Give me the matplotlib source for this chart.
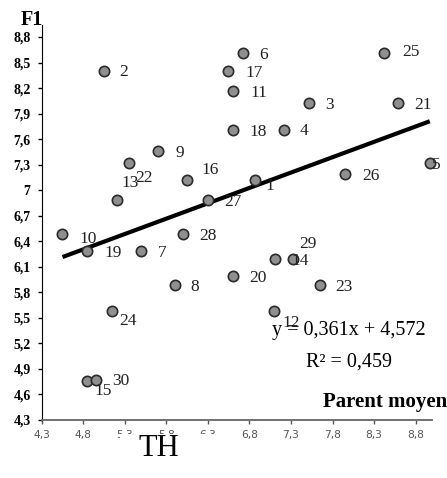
import matplotlib
matplotlib.use("Agg")
import matplotlib.pyplot as plt
import numpy as np
from matplotlib.patches import Rectangle

# data
ids = list(range(1, 31))
th = [6.87, 5.05, 7.52, 7.21, 8.97, 6.72, 5.50, 5.90, 5.70, 4.55,
      6.60, 7.09, 5.21, 7.32, 4.84, 6.05, 6.54, 6.60, 4.84, 6.60,
      8.59, 5.35, 7.65, 5.15, 8.42, 7.95, 6.30, 6.00, 7.11, 4.95]
f1 = [7.12, 8.40, 8.02, 7.71, 7.32, 8.61, 6.29, 5.89, 7.46, 6.49,
      8.16, 5.58, 6.89, 6.19, 4.76, 7.12, 8.40, 7.71, 6.29, 5.99,
      8.02, 7.32, 5.89, 5.58, 8.61, 7.19, 6.89, 6.49, 6.19, 4.77]
slope, intercept, r2 = 0.361, 4.572, 0.459
ticks = [4.3, 4.6, 4.9, 5.2, 5.5, 5.8, 6.1, 6.4, 6.7, 7.0, 7.3, 7.6, 7.9, 8.2, 8.5, 8.8]
xticks = [4.3, 4.8, 5.3, 5.8, 6.3, 6.8, 7.3, 7.8, 8.3, 8.8]

# label offsets in pixels (right, down)
lab_off = [(15, 6), (20, 1), (20, 2), (20, 1), (6, 2), (21, 2), (21, 2), (20, 2),
           (22, 2), (26, 5), (26, 2), (18, 12), (13, -17), (8, 2), (17, 10),
           (23, -10), (26, 2), (25, 2), (27, 2), (25, 2), (25, 2), (15, 15),
           (24, 2), (16, 10), (27, -1), (26, 2), (25, 2), (25, 2), (33, -15), (25, 1)]

def fmt(v):
    return str(int(round(v))) if abs(v - round(v)) < 1e-9 else f"{v:.1f}".replace(".", ",")

serif = "Liberation Serif"

fig = plt.figure(figsize=(4.47, 4.78), dpi=100)
ax = fig.add_axes([41.7 / 447, 1 - 420 / 478, 390 / 447, 395 / 478])

xs = np.array([min(th), max(th)])
ax.plot(xs, slope * xs + intercept, color="black", lw=3, zorder=2, solid_capstyle="butt")
ax.scatter(th, f1, s=55, c="#8f8f8f", edgecolors="#2a2a2a", linewidths=1.2, zorder=3, clip_on=False)

for i, x, y, (dx, dy) in zip(ids, th, f1, lab_off):
    ax.annotate(str(i), (x, y), xytext=(dx * 0.72, -dy * 0.72), textcoords="offset points",
                ha="center", va="center", family=serif, fontsize=12.5, color="#222222")

ax.set_xlim(4.3, 8.993)
ax.set_ylim(4.3, 8.941)
ax.set_yticks(ticks)
ax.set_yticklabels([fmt(v) for v in ticks], family=serif, fontweight="bold", fontsize=10)
ax.set_xticks(xticks)
ax.set_xticklabels([fmt(v) for v in xticks], family="DejaVu Sans", fontsize=7.7, color="#555555")
ax.tick_params(axis="y", direction="out", length=3, width=1, pad=5)
ax.tick_params(axis="x", direction="out", length=3, width=1, pad=4.5, color="#555555")
for s in ["top", "right"]:
    ax.spines[s].set_visible(False)
ax.spines["left"].set_color("black")
ax.spines["bottom"].set_color("#666666")
ax.spines["bottom"].set_linewidth(1.3)

# annotations
fig.text(32 / 447, 1 - 20 / 478, "F1", family=serif, fontweight="bold", fontsize=14.5,
         ha="center", va="center")
fig.text(322.7 / 447, 1 - 407 / 478, "Parent moyen", family=serif, fontweight="bold",
         fontsize=15, ha="left", va="baseline")
fig.text(349 / 447, 1 - 330 / 478, "y = 0,361x + 4,572", family=serif, fontsize=14.5,
         ha="center", va="center")
fig.text(349 / 447, 1 - 362 / 478, "R² = 0,459", family=serif, fontsize=14.5,
         ha="center", va="center")

# white box with TH partially covering tick labels
fig.patches.append(Rectangle((120 / 447, 0), 122 / 447, 1 - 434 / 478, transform=fig.transFigure,
                             facecolor="white", edgecolor="none", zorder=5))
fig.text(159 / 447, 1 - 448 / 478, "TH", family=serif, fontsize=22, ha="center", va="center",
         zorder=6)

fig.savefig("out.png", dpi=100)
